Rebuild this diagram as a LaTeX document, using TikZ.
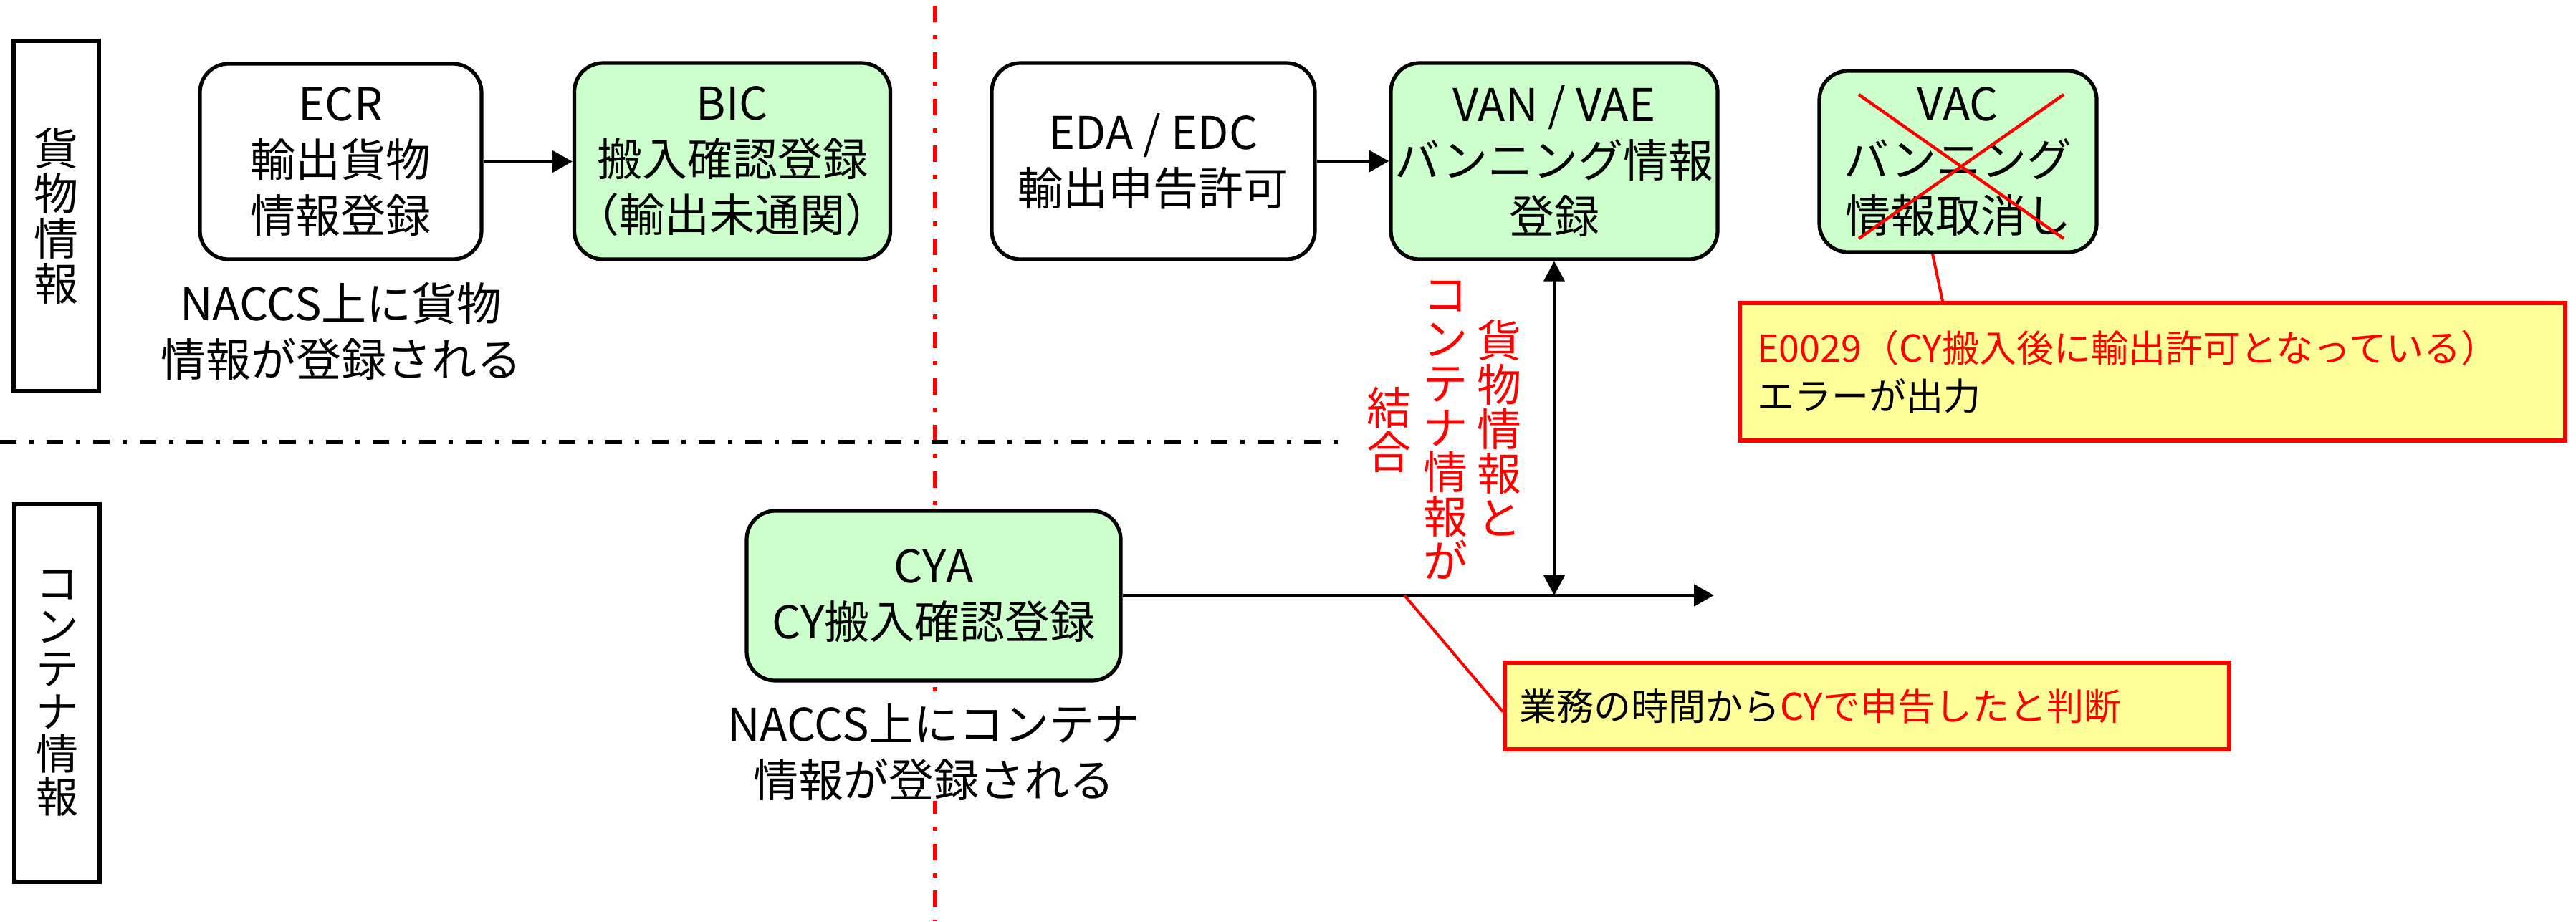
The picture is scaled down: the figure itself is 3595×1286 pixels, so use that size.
\documentclass[tikz,border=0pt]{standalone}
\usepackage{fontspec}
\setmainfont{Noto Sans CJK JP}
\usetikzlibrary{arrows.meta}
\definecolor{gfill}{HTML}{CCFFCC}
\definecolor{yfill}{HTML}{FFFF99}
\newcommand\fsMain{\fontsize{31.5pt}{39pt}\selectfont}
\newcommand\fsSmall{\fontsize{26pt}{33.5pt}\selectfont}
\newcommand\fsVert{\fontsize{31pt}{31pt}\selectfont}
\newcommand\fsLaneA{\fontsize{31pt}{31.5pt}\selectfont}
\newcommand\fsLaneB{\fontsize{29.5pt}{29.75pt}\selectfont}
\begin{document}
\begin{tikzpicture}[x=0.5pt,y=-0.5pt,
  procbox/.style={draw, line width=2.6pt, rounded corners=20pt, align=center, font=\fsMain, inner sep=0pt},
  greenbox/.style={procbox, fill=gfill},
  whitebox/.style={procbox, fill=white},
  lanebox/.style={draw, line width=2.6pt, align=center, inner sep=0pt, minimum width=59.5pt},
  notetext/.style={align=center, font=\fsMain, inner sep=0pt},
  vtext/.style={align=center, font=\fsVert, text=red, inner sep=0pt},
  calloutbox/.style={draw=red, line width=2.6pt, fill=yfill, align=left, inner ysep=0pt, font=\fsSmall},
  flow/.style={line width=2.5pt, -{Triangle[length=14pt,width=15pt]}},
  linkarrow/.style={line width=2pt, {Triangle[length=14pt,width=14.5pt]}-{Triangle[length=14pt,width=14.5pt]}},
  redline/.style={red, line width=2pt},
  divline/.style={line width=2.6pt, dash pattern=on 11.5pt off 9pt on 3pt off 9pt}
]
\useasboundingbox (0,0) rectangle (3595,1286);

% separators
\draw[divline, red, line width=3pt] (1305,8) -- (1305,1286);
\draw[divline, black] (0,617) -- (1867,617);

% lane labels
\node[lanebox, minimum height=244.5pt, font=\fsLaneA] (laneA) at (78.5,301.5) {貨\\物\\情\\報};
\node[lanebox, minimum height=263.5pt, font=\fsLaneB] (laneB) at (79.5,967.5) {コ\\ン\\テ\\ナ\\情\\報};

% process boxes
\node[whitebox, minimum width=196.5pt, minimum height=136.5pt] (ECR) at (475.5,225.5) {ECR\\輸出貨物\\情報登録};
\node[greenbox, minimum width=209pt, minimum height=137pt] (BIC) at (1022,225) {BIC\\搬入確認登録\\（輸出未通関）};
\node[whitebox, minimum width=225.5pt, minimum height=137pt] (EDA) at (1609.5,225) {EDA / EDC\\輸出申告許可};
\node[greenbox, minimum width=228pt, minimum height=137pt] (VAN) at (2169,225) {VAN / VAE\\バンニング情報\\登録};
\node[greenbox, minimum width=193.5pt, minimum height=126.5pt] (VAC) at (2732.5,225.5) {VAC\\バンニング\\情報取消し};
\node[greenbox, minimum width=261pt, minimum height=118.5pt] (CYA) at (1303,831.5) {CYA\\CY搬入確認登録};

% notes
\node[notetext] (noteA) at (476,462) {NACCS上に貨物\\情報が登録される};
\node[notetext, fill=white] (noteB) at (1303,1050) {NACCS上にコンテナ\\情報が登録される};

% vertical red text
\node[vtext] (vt1) at (2092,597) {貨\\物\\情\\報\\と};
\node[vtext] (vt2) at (2017,600) {コ\\ン\\テ\\ナ\\情\\報\\が};
\node[vtext] (vt3) at (1938,599.5) {結\\合};

% callouts
\node[calloutbox, text width=552pt, inner xsep=12pt, minimum height=96pt] (err) at (3004,519)
  {\textcolor{red}{E0029（CY搬入後に輸出許可となっている）}\\エラーが出力};
\node[calloutbox, text width=485.5pt, inner xsep=10pt, minimum height=60.5pt] (judge) at (2605.5,985.5)
  {業務の時間から\textcolor{red}{CYで申告したと判断}};

% flows
\draw[flow] (ECR.east) -- (ECR.east -| BIC.west);
\draw[flow] (EDA.east) -- (EDA.east -| VAN.west);
\coordinate (cyend) at (2392,831);
\draw[flow] (CYA.east |- cyend) -- (cyend);
\draw[linkarrow] (VAN.south) -- (VAN.south |- cyend);

% red cross on VAC
\coordinate (xa) at (2594,132);
\coordinate (xb) at (2880,333);
\coordinate (xc) at (2880,132);
\coordinate (xd) at (2594,333);
\draw[redline, line width=2.2pt] (xa) -- (xb);
\draw[redline, line width=2.2pt] (xc) -- (xd);

% callout connectors
\draw[redline] ([xshift=-17.75pt]VAC.south) -- ([xshift=-146.5pt]err.north);
\coordinate (jpt) at (1960,831);
\draw[redline] (jpt) -- ([yshift=-4pt]judge.west);
\end{tikzpicture}
\end{document}
